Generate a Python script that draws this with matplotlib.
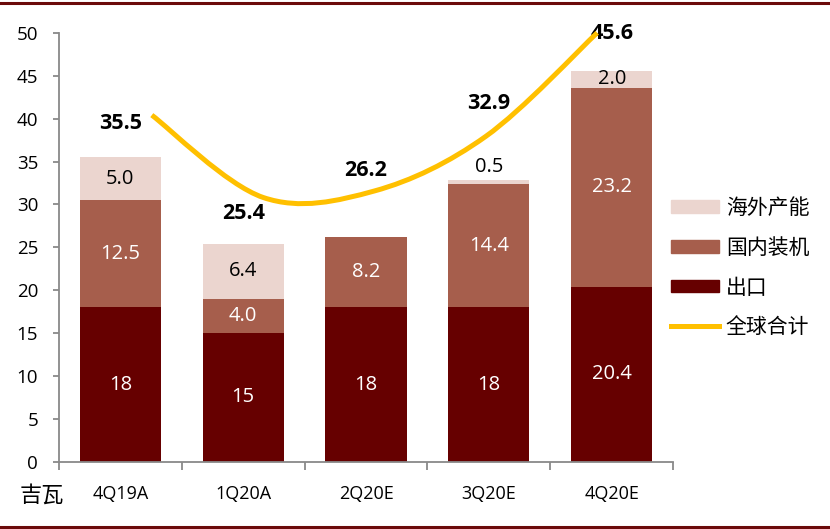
import numpy as np
import matplotlib
matplotlib.use("Agg")
import matplotlib.pyplot as plt
from matplotlib.path import Path
from matplotlib.patches import PathPatch, Patch
from matplotlib.lines import Line2D

plt.rcParams['font.family'] = ['Open Sans', 'Noto Sans CJK SC', 'DejaVu Sans']

# 数据
quarters = ['4Q19A', '1Q20A', '2Q20E', '3Q20E', '4Q20E']
export = [18, 15, 18, 18, 20.4]          # 出口
domestic = [12.5, 4.0, 8.2, 14.4, 23.2]  # 国内装机
overseas = [5.0, 6.4, 0, 0.5, 2.0]       # 海外产能
total = [35.5, 25.4, 26.2, 32.9, 45.6]   # 全球合计

c_export = '#660000'
c_domestic = '#A65E4C'
c_overseas = '#EBD5CF'
c_line = '#FFC000'

fig = plt.figure(figsize=(8.3, 5.29), dpi=100)
ax = fig.add_axes([0.071, 0.127, 0.74, 0.811])

x = np.arange(len(quarters))
w = 0.66
ax.bar(x, export, w, color=c_export)
ax.bar(x, domestic, w, bottom=export, color=c_domestic)
bottom3 = np.array(export) + np.array(domestic)
ax.bar(x, overseas, w, bottom=bottom3, color=c_overseas)

# 柱内标签
for i in range(len(x)):
    ax.text(x[i], export[i] / 2, '{:g}'.format(export[i]), ha='center', va='center',
            color='white', fontsize=14.5)
    ax.text(x[i], export[i] + domestic[i] / 2, '{:.1f}'.format(domestic[i]), ha='center',
            va='center', color='white', fontsize=14.5)
    if overseas[i] >= 1:
        ax.text(x[i], bottom3[i] + overseas[i] / 2, '{:.1f}'.format(overseas[i]),
                ha='center', va='center', color='black', fontsize=14.5)
    elif overseas[i] > 0:
        ax.text(x[i], bottom3[i] + overseas[i] + 0.3, '{:.1f}'.format(overseas[i]),
                ha='center', va='bottom', color='black', fontsize=14.5)

# 合计标签
dy = [24, 22, 48, 55, 27]
for i in range(len(x)):
    ax.annotate('{:.1f}'.format(total[i]), (x[i], total[i]), xytext=(0, dy[i]),
                textcoords='offset points', ha='center', va='center',
                fontsize=15.5, fontweight='bold', color='black', annotation_clip=False)

ax.set_xlim(-0.5, 4.5)
ax.set_ylim(0, 50)
ax.set_yticks(range(0, 51, 5))
ax.set_xticks(x)
ax.set_xticklabels(quarters)
ax.set_xticks(np.arange(-0.5, 4.6, 1), minor=True)
ax.tick_params(axis='x', which='major', length=0, pad=17, labelsize=13)
ax.tick_params(axis='x', which='minor', length=6, width=1.3, color='#898989', direction='out')
ax.tick_params(axis='y', length=4, width=1.3, color='#898989', pad=11, labelsize=13.5)
for s in ['top', 'right']:
    ax.spines[s].set_visible(False)
for s in ['left', 'bottom']:
    ax.spines[s].set_color('#898989')
    ax.spines[s].set_linewidth(1.3)

# 全球合计：次坐标轴上的平滑曲线
ax2 = fig.add_axes(ax.get_position(), frameon=False)
ax2.set_xlim(-0.834, 4.682)
ax2.set_ylim(-7.03, 45.6)
ax2.axis('off')
P = np.column_stack([np.arange(len(total)), total]).astype(float)
ext = np.vstack([P[0], P, P[-1]])
verts = [tuple(P[0])]
codes = [Path.MOVETO]
for k in range(len(P) - 1):
    c1 = ext[k + 1] + (ext[k + 2] - ext[k]) / 6
    c2 = ext[k + 2] - (ext[k + 3] - ext[k + 1]) / 6
    verts += [tuple(c1), tuple(c2), tuple(P[k + 1])]
    codes += [Path.CURVE4] * 3
curve = PathPatch(Path(verts, codes), facecolor='none', edgecolor=c_line, lw=3.6,
                  capstyle='butt', clip_on=False)
ax2.add_patch(curve)

# 图例
handles = [Patch(color=c_overseas), Patch(color=c_domestic), Patch(color=c_export),
           Line2D([0], [0], color=c_line, lw=3.6)]
labels = ['海外产能', '国内装机', '出口', '全球合计']
fig.legend(handles, labels, loc='center left', bbox_to_anchor=(0.808, 0.494),
           frameon=False, handlelength=2.3, handleheight=0.55,
           handletextpad=0.35, labelspacing=0.85, borderpad=0, borderaxespad=0,
           prop={'family': ['Noto Sans CJK SC', 'DejaVu Sans'], 'size': 15})

fig.text(0.051, 0.064, '吉瓦', ha='center', va='center', fontsize=16,
         family=['Noto Sans CJK SC', 'DejaVu Sans'])

# 上下边框线
fig.add_artist(Line2D([0, 1], [0.995, 0.995], color='#6B0A0A', lw=2.2, transform=fig.transFigure))
fig.add_artist(Line2D([0, 1], [0.004, 0.004], color='#6B0A0A', lw=2.2, transform=fig.transFigure))

fig.savefig('out.png', dpi=100)
